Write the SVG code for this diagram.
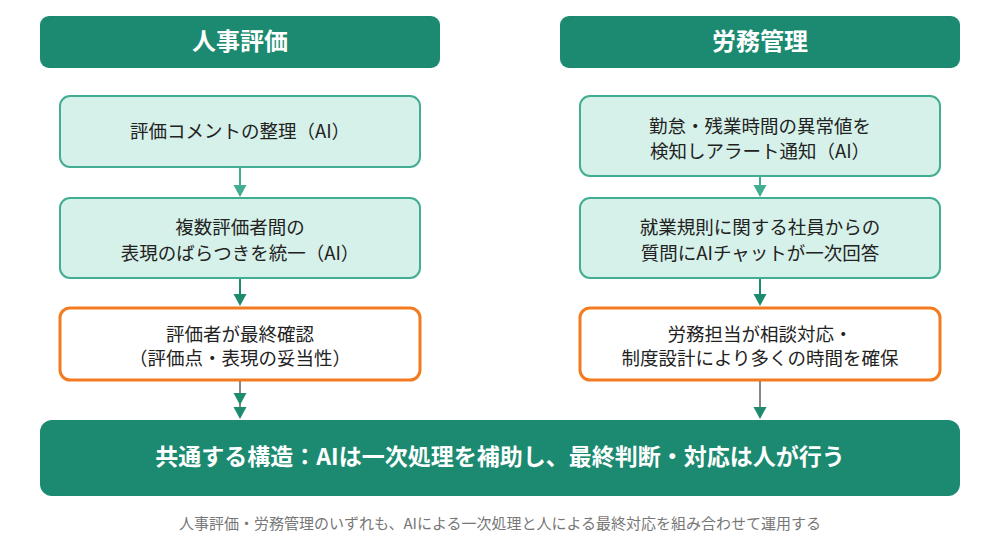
<svg xmlns="http://www.w3.org/2000/svg" width="1000" height="560" viewBox="0 0 1000 560">
<style>
text{font-family:"Noto Sans CJK JP","Noto Sans",sans-serif;text-anchor:middle}
.hdr{fill:#1b8a70}
.ht{fill:#fff;font-size:24px;font-weight:700}
.ai{fill:#d6f1e9;stroke:#42ad92;stroke-width:2}
.hu{fill:#fff;stroke:#f47a20;stroke-width:3}
.bt{fill:#222;font-size:18.5px}
.mt{fill:#fff;font-size:23px;font-weight:700}
.ft{fill:#777;font-size:15px}
</style>
<rect width="1000" height="560" fill="#fff"/>
<g id="hdr-left"><rect class="hdr" x="40" y="16" width="400" height="52" rx="9"/><text class="ht" x="240" y="50">人事評価</text></g>
<g id="hdr-right"><rect class="hdr" x="560" y="16" width="400" height="52" rx="9"/><text class="ht" x="760" y="50">労務管理</text></g>
<g id="l1"><rect class="ai" x="60" y="96" width="360" height="71" rx="10"/><text class="bt" x="240" y="138">評価コメントの整理（AI）</text></g>
<g id="l2"><rect class="ai" x="60" y="198" width="360" height="80" rx="10"/><text class="bt" x="240" y="234">複数評価者間の</text><text class="bt" x="240" y="260">表現のばらつきを統一（AI）</text></g>
<g id="l3"><rect class="hu" x="60" y="308" width="360" height="72" rx="10"/><text class="bt" x="240" y="341">評価者が最終確認</text><text class="bt" x="240" y="365">（評価点・表現の妥当性）</text></g>
<g id="r1"><rect class="ai" x="580" y="96" width="360" height="80" rx="10"/><text class="bt" x="760" y="133">勤怠・残業時間の異常値を</text><text class="bt" x="760" y="158">検知しアラート通知（AI）</text></g>
<g id="r2"><rect class="ai" x="580" y="198" width="360" height="80" rx="10"/><text class="bt" x="760" y="234">就業規則に関する社員からの</text><text class="bt" x="760" y="260">質問にAIチャットが一次回答</text></g>
<g id="r3"><rect class="hu" x="580" y="308" width="360" height="72" rx="10"/><text class="bt" x="760" y="341">労務担当が相談対応・</text><text class="bt" x="760" y="365">制度設計により多くの時間を確保</text></g>
<g id="main"><rect class="hdr" x="40" y="420" width="920" height="76" rx="12"/><text class="mt" x="500" y="465">共通する構造：AIは一次処理を補助し、最終判断・対応は人が行う</text></g>
<g id="connectors">
<line x1="240" y1="168" x2="240" y2="187" stroke="#42ad92" stroke-width="2"/><polygon points="233.5,185 246.5,185 240,197" fill="#42ad92"/>
<line x1="760" y1="177" x2="760" y2="187" stroke="#42ad92" stroke-width="2"/><polygon points="753.5,185 766.5,185 760,197" fill="#42ad92"/>
<line x1="240" y1="279" x2="240" y2="296" stroke="#1e8a6e" stroke-width="2"/><polygon points="233.5,294 246.5,294 240,306" fill="#1e8a6e"/>
<line x1="760" y1="279" x2="760" y2="296" stroke="#1e8a6e" stroke-width="2"/><polygon points="753.5,294 766.5,294 760,306" fill="#1e8a6e"/>
<line x1="240" y1="381" x2="240" y2="409" stroke="#888" stroke-width="2"/><polygon points="233.5,393 246.5,393 240,405" fill="#1e8a6e"/><polygon points="233.5,407 246.5,407 240,419" fill="#1e8a6e"/>
<line x1="760" y1="381" x2="760" y2="409" stroke="#888" stroke-width="2"/><polygon points="753.5,407 766.5,407 760,419" fill="#1e8a6e"/>
</g>
<text class="ft" x="500" y="529">人事評価・労務管理のいずれも、AIによる一次処理と人による最終対応を組み合わせて運用する</text>
</svg>
